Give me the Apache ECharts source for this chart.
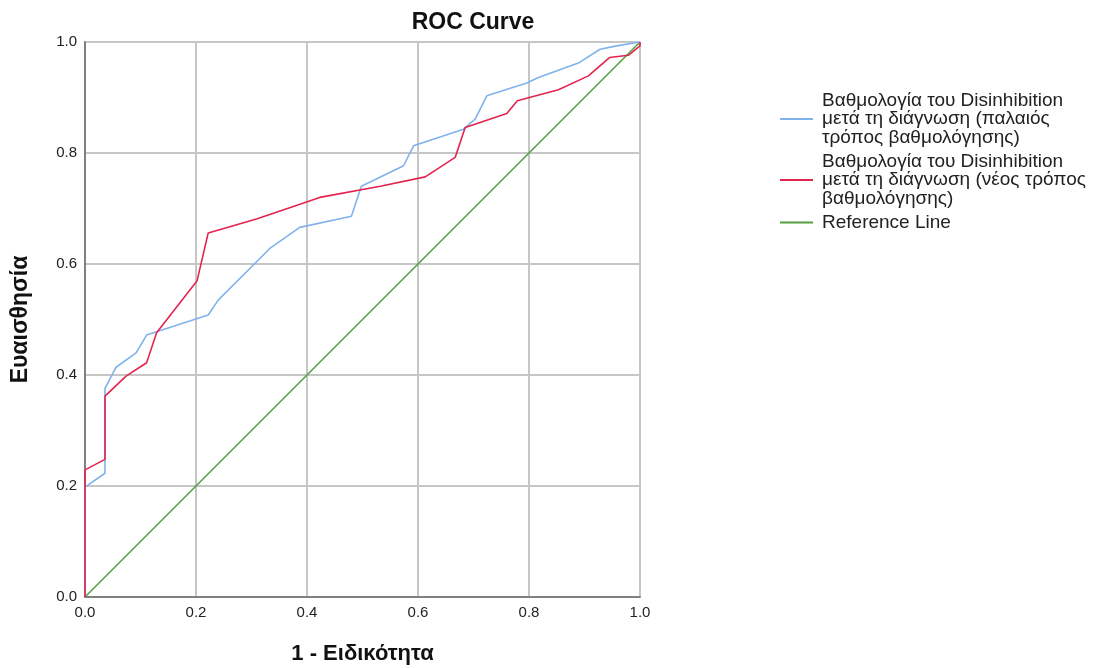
<!DOCTYPE html>
<html><head><meta charset="utf-8">
<script src="https://cdn.jsdelivr.net/npm/echarts@6/dist/echarts.min.js"></script>
<style>html,body{margin:0;padding:0;background:#fff}#c{width:1093px;height:668px}</style>
</head><body><div id="c"></div>
<script>
const seriesNames = [
  'Βαθμολογία του Disinhibition\nμετά τη διάγνωση (παλαιός\nτρόπος βαθμολόγησης)',
  'Βαθμολογία του Disinhibition\nμετά τη διάγνωση (νέος τρόπος\nβαθμολόγησης)',
  'Reference Line'
];
const oldScoring = [[0,0],[0,0.198],[0.036,0.223],[0.036,0.376],[0.056,0.414],[0.092,0.44],[0.111,0.472],[0.222,0.508],[0.240,0.535],[0.333,0.628],[0.387,0.666],[0.480,0.686],[0.498,0.740],[0.574,0.777],[0.592,0.813],[0.682,0.843],[0.703,0.861],[0.724,0.903],[0.796,0.926],[0.817,0.936],[0.889,0.962],[0.928,0.987],[0.958,0.993],[1,1]];
const newScoring = [[0,0],[0,0.229],[0.036,0.248],[0.036,0.362],[0.074,0.398],[0.111,0.422],[0.129,0.476],[0.202,0.570],[0.222,0.656],[0.309,0.681],[0.423,0.72],[0.532,0.740],[0.613,0.757],[0.667,0.792],[0.685,0.846],[0.760,0.871],[0.779,0.894],[0.853,0.914],[0.907,0.939],[0.945,0.972],[0.979,0.976],[1,0.993],[1,1]];
const referenceLine = [[0,0],[1,1]];
const colors = ['#80b2ec','#e3244f','#52a040'];
const FONT = 'Liberation Sans, Arial, sans-serif';
const chart = echarts.init(document.getElementById('c'));
const axisLabel = {fontSize:15,color:'#222',fontFamily:FONT,margin:8,formatter:v=>v.toFixed(1)};
chart.setOption({
  animation:false,
  title:{text:'ROC Curve',left:468,top:6,textAlign:'center',textStyle:{fontSize:23,fontWeight:'bold',color:'#111',fontFamily:FONT}},
  legend:{orient:'vertical',left:780,top:91,itemWidth:33,itemHeight:2,itemGap:5,icon:'rect',padding:0,
    textStyle:{fontSize:19,lineHeight:18.5,color:'#222',fontFamily:FONT,padding:[0,0,0,4]},
    data:seriesNames},
  grid:{left:85,right:453,top:42,bottom:71,containLabel:false,outerBoundsMode:'none'},
  xAxis:{type:'value',min:0,max:1,interval:0.2,name:'1 - Ειδικότητα',nameLocation:'middle',nameGap:46,
    nameTextStyle:{fontSize:22,fontWeight:'bold',color:'#111',fontFamily:FONT},
    axisLine:{show:true,lineStyle:{color:'#808080',width:2}},axisTick:{show:false},axisLabel:axisLabel,
    splitLine:{show:true,lineStyle:{color:'#c6c6c6',width:2}}},
  yAxis:{type:'value',min:0,max:1,interval:0.2,name:'Ευαισθησία',nameLocation:'middle',nameGap:53,
    nameTextStyle:{fontSize:23,fontWeight:'bold',color:'#111',fontFamily:FONT},
    axisLine:{show:true,lineStyle:{color:'#808080',width:2}},axisTick:{show:false},axisLabel:axisLabel,
    splitLine:{show:true,lineStyle:{color:'#c6c6c6',width:2}}},
  series:[
    {name:seriesNames[2],type:'line',data:referenceLine,showSymbol:false,lineStyle:{color:colors[2],width:1.6},itemStyle:{color:colors[2]}},
    {name:seriesNames[0],type:'line',data:oldScoring,showSymbol:false,lineStyle:{color:colors[0],width:1.6},itemStyle:{color:colors[0]}},
    {name:seriesNames[1],type:'line',data:newScoring,showSymbol:false,lineStyle:{color:colors[1],width:1.6},itemStyle:{color:colors[1]}}
  ]
});
</script></body></html>
